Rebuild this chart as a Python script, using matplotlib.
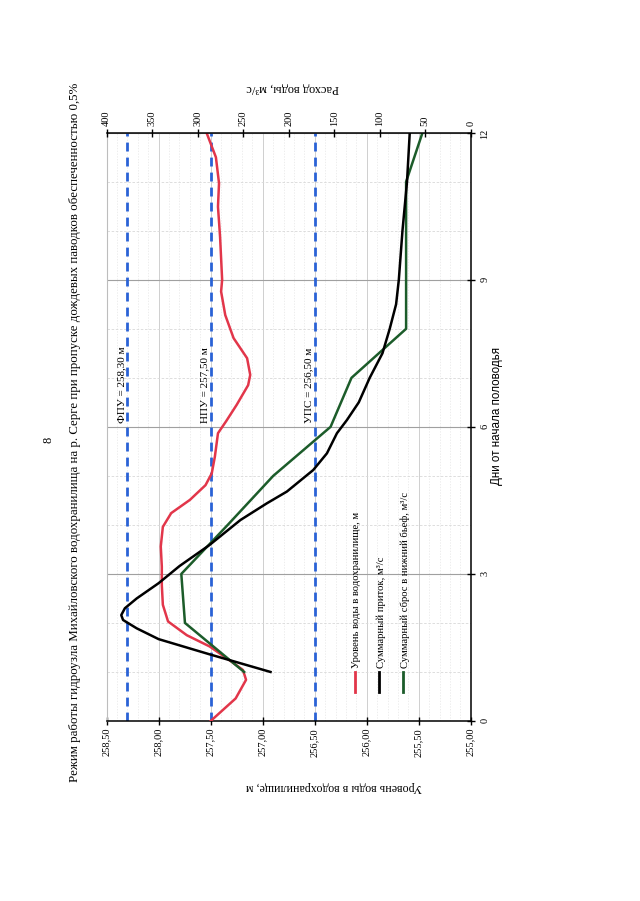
import matplotlib
matplotlib.use("Agg")
import matplotlib.pyplot as plt
from matplotlib.ticker import MultipleLocator, FuncFormatter
from matplotlib.lines import Line2D

plt.rcParams['font.family'] = ['Liberation Serif', 'DejaVu Serif']

# уровень воды в водохранилище, м
level_days = [0, 0.46, 0.84, 1.04, 1.21, 1.52, 1.75, 2.03, 2.37, 2.77, 3.15, 3.56,
              3.96, 4.24, 4.51, 4.81, 5.05, 5.39, 5.87, 6.12, 6.45, 6.85, 7.06, 7.4,
              7.81, 8.28, 8.76, 9.0, 9.88, 10.49, 10.97, 11.5, 12.0]
levels = [257.50, 257.26, 257.16, 257.19, 257.30, 257.51, 257.73, 257.91, 257.96, 257.97,
          257.97, 257.98, 257.96, 257.88, 257.70, 257.55, 257.49, 257.46, 257.43, 257.35,
          257.25, 257.14, 257.12, 257.15, 257.28, 257.36, 257.40, 257.39, 257.41, 257.43,
          257.42, 257.45, 257.54]

# суммарный приток, м3/с
inflow_days = [1.0, 1.36, 1.67, 1.89, 2.06, 2.16, 2.30, 2.50, 2.81, 3.16, 3.59, 4.10,
               4.44, 4.68, 5.12, 5.46, 5.87, 6.14, 6.5, 7.0, 7.5, 8.0, 8.5, 9.0, 10.0,
               11.0, 12.0]
inflow = [220, 287, 343, 367, 382, 384, 380, 367, 343, 320, 287, 253, 224, 202, 173,
          158, 147, 136, 123, 111, 97, 89, 82, 79, 75, 70, 67]

# суммарный сброс в нижний бьеф, м3/с
outflow_days = [1, 2, 3, 4, 5, 6, 7, 8, 9, 10, 11, 12]
outflow = [249, 314, 318, 267, 217, 154, 131, 71, 71, 71, 71, 53]

# характерные уровни
marks = [258.30, 257.50, 256.50]
mark_labels = ['ФПУ = 258,30 м', 'НПУ = 257,50 м', 'УПС = 256,50 м']

legend_labels = ['Уровень воды в водохранилище, м',
                 'Суммарный приток, м³/с',
                 'Суммарный сброс в нижний бьеф, м³/с']

red = '#e2364a'
green = '#1c5c2a'
blue = '#2a62d6'

fig = plt.figure(figsize=(6.4, 9.01), dpi=100)
ax = fig.add_axes([0.1667, 0.1998, 0.5688, 0.6529])

# лист повернут: уровень по горизонтали, дни по вертикали
ax.set_xlim(258.5, 255.0)
ax.set_ylim(0, 12)
ax.xaxis.set_major_locator(MultipleLocator(0.5))
ax.xaxis.set_minor_locator(MultipleLocator(0.1))
ax.yaxis.set_major_locator(MultipleLocator(3))
ax.yaxis.set_minor_locator(MultipleLocator(1))
ax.yaxis.tick_right()
ax.xaxis.set_major_formatter(FuncFormatter(lambda v, p: f'{v:.2f}'.replace('.', ',')))
ax.tick_params(axis='x', which='major', direction='inout', length=6, width=1,
               labelsize=7.5, labelrotation=90, pad=2)
ax.tick_params(axis='y', which='major', direction='inout', length=6, width=1,
               labelsize=7.5, labelrotation=90, pad=4)
ax.tick_params(which='minor', length=0)

ax.grid(which='major', axis='y', color='#a0a0a0', lw=0.8)
ax.grid(which='minor', axis='y', color='#d8d8d8', lw=0.6, ls=(0, (3, 2)))
ax.grid(which='major', axis='x', color='#cfcfcf', lw=0.7)
ax.grid(which='minor', axis='x', color='#e6e6e6', lw=0.5, ls=(0, (2, 2)))
ax.set_axisbelow(True)

ax.spines['left'].set_color('#bdbdbd')
ax.spines['left'].set_linewidth(0.8)
ax.spines['top'].set_visible(False)
for s in ['bottom', 'right']:
    ax.spines[s].set_linewidth(1.1)

for m, lab in zip(marks, mark_labels):
    ax.axvline(m, color=blue, lw=2, ls=(0, (3.2, 2.2)), zorder=2)
    ax.text(m + 0.015, 6.85, lab, rotation=90, ha='right', va='center', fontsize=8)

ax.plot(levels, level_days, color=red, lw=1.8, zorder=3)

ax2 = ax.twiny()
ax2.set_xlim(400, 0)
ax2.xaxis.set_major_locator(MultipleLocator(50))
ax2.tick_params(axis='x', direction='inout', length=6, width=1, labelsize=7.5,
                labelrotation=90, pad=2)
for s in ['left', 'right', 'bottom']:
    ax2.spines[s].set_visible(False)
ax2.spines['top'].set_linewidth(1.1)

ax2.plot(outflow, outflow_days, color=green, lw=1.8)
ax2.plot(inflow, inflow_days, color='black', lw=1.8)

# легенда
for x, c, lab in zip([0.5547, 0.592, 0.630], [red, 'black', green], legend_labels):
    fig.add_artist(Line2D([x, x], [0.232, 0.254], transform=fig.transFigure, color=c, lw=2))
    fig.text(x + 0.003, 0.2586, lab, rotation=90, ha='center', va='bottom', fontsize=7.7)

fig.text(0.117, 0.5205, 'Режим работы гидроузла Михайловского водохранилища на р. Серге '
         'при пропуске дождевых паводков обеспеченностью 0,5%',
         rotation=90, ha='center', va='center', fontsize=9.3)
fig.text(0.075, 0.512, '8', rotation=90, ha='center', va='center', fontsize=9)
fig.text(0.522, 0.1265, 'Уровень воды в водохранилище, м', rotation=180,
         ha='center', va='center', fontsize=8.6)
fig.text(0.457, 0.902, 'Расход воды, м³/с', rotation=180, ha='center', va='center',
         fontsize=9)
fig.text(0.777, 0.538, 'Дни от начала половодья', rotation=90, ha='center',
         va='center', fontsize=8.4, family=['Liberation Sans', 'DejaVu Sans'])

fig.savefig('out.png', dpi=100)
